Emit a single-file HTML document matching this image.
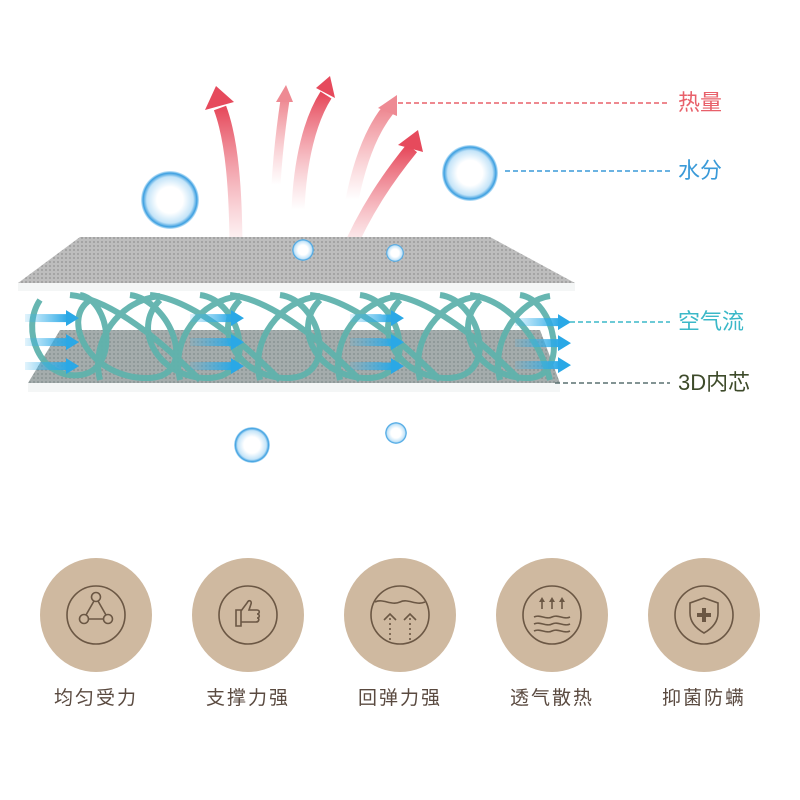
<!DOCTYPE html>
<html><head><meta charset="utf-8"><style>
html,body{margin:0;padding:0;background:#fff;}
body{width:800px;height:800px;position:relative;overflow:hidden;font-family:"Liberation Sans","Noto Sans CJK SC",sans-serif;}
.lbl{position:absolute;font-size:22px;line-height:22px;}
.ic{position:absolute;width:112px;height:114px;border-radius:50%;background:#cfb9a0;top:558px;}
.tx{position:absolute;top:683px;width:152px;text-align:center;font-size:19px;color:#5a4a40;letter-spacing:2px;}
svg{position:absolute;left:0;top:0}
</style></head><body>
<div class="ic" style="left:40px"></div>
<div class="ic" style="left:192px"></div>
<div class="ic" style="left:344px"></div>
<div class="ic" style="left:496px"></div>
<div class="ic" style="left:648px"></div>
<svg width="800" height="800">
<defs>
<pattern id="dots" width="4" height="4" patternUnits="userSpaceOnUse"><rect width="4" height="4" fill="#bdbdbd"/><circle cx="2" cy="2" r="1" fill="#9c9c9c"/></pattern>
<pattern id="dots2" width="4" height="4" patternUnits="userSpaceOnUse"><rect width="4" height="4" fill="#a4acac"/><circle cx="2" cy="2" r="1" fill="#8a9494"/></pattern>
<linearGradient id="rg" x1="0" y1="1" x2="0" y2="0"><stop offset="0" stop-color="#f08a95" stop-opacity="0"/><stop offset="1" stop-color="#e64a5c"/></linearGradient>
<linearGradient id="rg2" x1="0" y1="1" x2="0" y2="0"><stop offset="0" stop-color="#f5a0a8" stop-opacity="0"/><stop offset="1" stop-color="#ee8a93"/></linearGradient>
<linearGradient id="bg" x1="0" y1="0" x2="1" y2="0"><stop offset="0" stop-color="#3ab4ec" stop-opacity="0.15"/><stop offset="1" stop-color="#2aa8e6"/></linearGradient>
<radialGradient id="drop"><stop offset="0.45" stop-color="#fff"/><stop offset="0.8" stop-color="#c4e4f8"/><stop offset="0.93" stop-color="#3a9ee0"/><stop offset="1" stop-color="#7cc4f0" stop-opacity="0.4"/></radialGradient>
<marker id="ah" markerUnits="userSpaceOnUse" markerWidth="14" markerHeight="16" refX="2" refY="8" orient="auto"><path d="M0,0 L13,8 L0,16 Z" fill="#2aa8e6"/></marker>
</defs>
<g fill="none" stroke-width="13">
<path d="M236,255 C236,190 232,140 220,108" stroke="url(#rg)"/>
<path d="M276,185 C278,150 282,120 285,100" stroke="url(#rg2)" stroke-width="9"/>
<path d="M298,210 C300,160 310,120 326,95" stroke="url(#rg)"/>
<path d="M352,200 C360,160 372,130 388,110" stroke="url(#rg2)"/>
<path d="M345,258 C365,210 390,175 412,148" stroke="url(#rg)"/>
</g>
<g fill="#e64a5c">
<path d="M205,110 L216,86 L234,102 Z"/>
<path d="M276,102 L286,85 L293,102 Z" fill="#ee8a93"/>
<path d="M316,88 L330,76 L335,98 Z"/>
<path d="M378,108 L397,95 L397,116 Z" fill="#ee8a93"/>
<path d="M398,145 L418,130 L423,152 Z"/>
</g>
<circle cx="170" cy="200" r="29" fill="url(#drop)"/>
<circle cx="470" cy="173" r="28" fill="url(#drop)"/>
<polygon points="60,330 540,330 560,383 28,383" fill="url(#dots2)"/>
<rect x="28" y="383" width="532" height="9" fill="#f4f6f6"/>
<g fill="none" stroke="#5fb3ad" stroke-width="6" opacity="0.95">
<path d="M40,300 C20,330 40,380 80,375 C120,370 110,300 80,295"/>
<path d="M90,300 C60,320 90,380 150,378 C200,375 170,300 130,295"/>
<path d="M70,295 C120,300 180,360 200,380"/>
<path d="M150,295 C200,300 260,360 280,380"/>
<path d="M230,295 C280,300 340,360 360,380"/>
<path d="M310,295 C360,300 420,360 440,380"/>
<path d="M390,295 C440,300 500,360 520,380"/>
<path d="M470,295 C510,300 540,340 550,380"/>
<path d="M160,300 C130,330 160,380 210,378 C260,375 240,300 200,295"/>
<path d="M240,300 C210,330 240,380 290,378 C340,375 320,300 280,295"/>
<path d="M320,300 C290,330 320,380 370,378 C420,375 400,300 360,295"/>
<path d="M400,300 C370,330 400,380 450,378 C500,375 480,300 440,295"/>
<path d="M480,300 C450,330 480,380 530,378 C570,375 555,300 520,295"/>
<path d="M100,380 C90,340 120,300 160,296"/>
<path d="M180,380 C170,340 200,300 240,296"/>
<path d="M260,380 C250,340 280,300 320,296"/>
<path d="M340,380 C330,340 360,300 400,296"/>
<path d="M420,380 C410,340 440,300 480,296"/>
<path d="M500,380 C490,340 520,300 550,296"/>
</g>
<g stroke="url(#bg)" stroke-width="8" marker-end="url(#ah)" fill="none">
<path d="M25,318 L68,318.1"/><path d="M25,342 L68,342.1"/><path d="M25,366 L68,366.1"/>
<path d="M190,318 L233,318.1"/><path d="M190,342 L233,342.1"/><path d="M190,366 L233,366.1"/>
<path d="M350,318 L393,318.1"/><path d="M350,342 L393,342.1"/><path d="M350,366 L393,366.1"/>
<path d="M515,322 L560,322.1"/><path d="M515,343 L560,343.1"/><path d="M515,365 L560,365.1"/>
</g>
<polygon points="80,237 490,237 575,283 18,283" fill="url(#dots)"/>
<rect x="18" y="283" width="557" height="8" fill="#f4f6f6"/>
<circle cx="303" cy="250" r="11" fill="url(#drop)"/>
<circle cx="395" cy="253" r="9" fill="url(#drop)"/>
<circle cx="252" cy="445" r="18" fill="url(#drop)"/>
<circle cx="396" cy="433" r="11" fill="url(#drop)"/>
<g stroke-width="1.5" stroke-dasharray="5,3">
<line x1="398" y1="103" x2="670" y2="103" stroke="#e8606a"/>
<line x1="505" y1="171" x2="670" y2="171" stroke="#3a9ad8"/>
<line x1="570" y1="322" x2="670" y2="322" stroke="#3bb8c8"/>
<line x1="555" y1="383" x2="670" y2="383" stroke="#5a7070"/>
</g>
<g fill="none" stroke="#6b5744" stroke-width="1.6">
<ellipse cx="96" cy="615" rx="29" ry="29"/>
<circle cx="96" cy="597" r="4.5"/><circle cx="84" cy="619" r="4.5"/><circle cx="108" cy="619" r="4.5"/>
<path d="M94,601 L86,615 M98,601 L106,615 M89,619 L103,619"/>
<ellipse cx="248" cy="615" rx="29" ry="29"/>
<path d="M236,610 h5 v16 h-5 z M241,611 l6,-8 c2,-4 5,-2 4,1 l-2,6 h8 c3,0 3,4 0,4 c3,0 3,4 0,4 c3,0 2,4 -1,4 h-15"/>
<ellipse cx="400" cy="615" rx="29" ry="29"/>
<path d="M375,602 c8,-4 16,4 25,0 c8,-4 16,4 25,0"/>
<path d="M384,620 l6,-6 l6,6 M404,620 l6,-6 l6,6" />
<path d="M390,618 v22 M410,618 v22" stroke-dasharray="2,3"/>
<ellipse cx="552" cy="615" rx="29" ry="29"/>
<path d="M534,617 c6,-3 12,3 18,0 c6,-3 12,3 18,0 M534,624 c6,-3 12,3 18,0 c6,-3 12,3 18,0 M534,631 c6,-3 12,3 18,0 c6,-3 12,3 18,0"/>
<path d="M542,609 v-9 M552,609 v-9 M562,609 v-9"/>
<ellipse cx="704" cy="615" rx="29" ry="29"/>
<path d="M704,598 l14,5 v10 c0,10 -7,16 -14,20 c-7,-4 -14,-10 -14,-20 v-10 z"/>
</g>
<g fill="#6b5744"><path d="M539,602 l3,-5 l3,5 z M549,602 l3,-5 l3,5 z M559,602 l3,-5 l3,5 z"/>
<rect x="702" y="608" width="4" height="14"/><rect x="697" y="613" width="14" height="4"/></g>
</svg>
<div class="lbl" style="left:678px;top:92px;color:#e8606a">热量</div>
<div class="lbl" style="left:678px;top:160px;color:#3a9ad8">水分</div>
<div class="lbl" style="left:678px;top:311px;color:#3bb8c8">空气流</div>
<div class="lbl" style="left:678px;top:372px;color:#3d4a2a">3D内芯</div>
<div class="tx" style="left:20px">均匀受力</div>
<div class="tx" style="left:172px">支撑力强</div>
<div class="tx" style="left:324px">回弹力强</div>
<div class="tx" style="left:476px">透气散热</div>
<div class="tx" style="left:628px">抑菌防螨</div>
</body></html>
